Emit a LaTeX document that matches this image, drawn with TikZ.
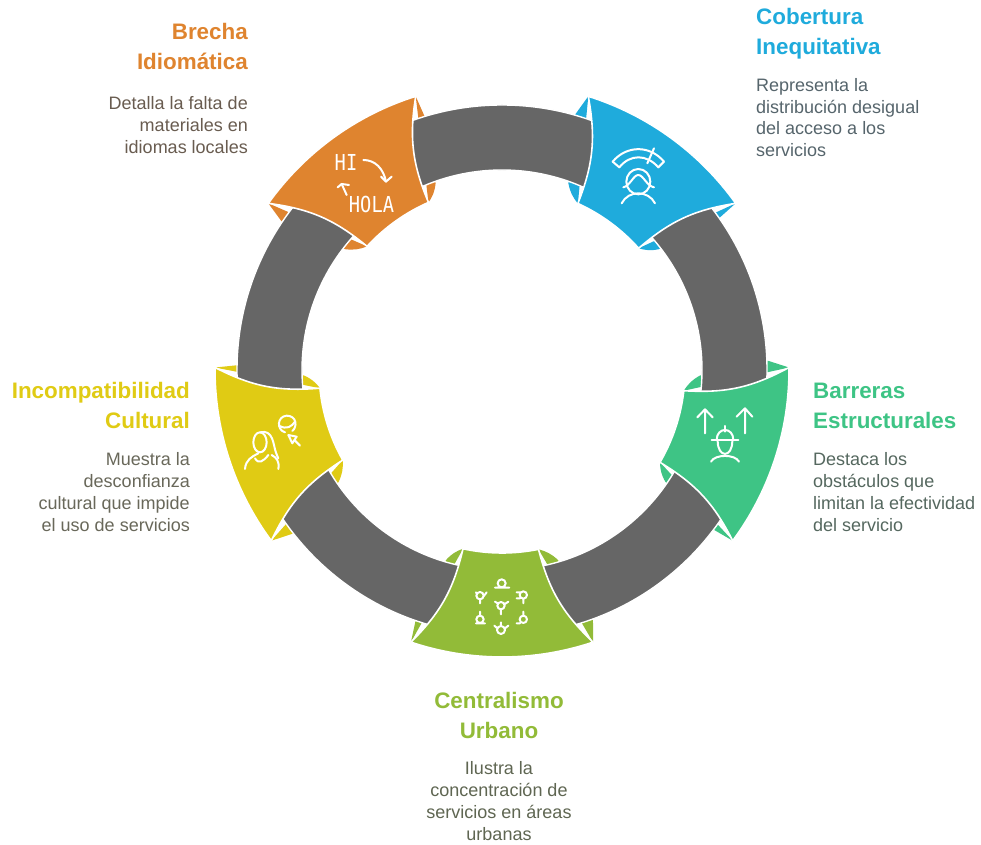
\documentclass[tikz,border=0pt]{standalone}
\usepackage{fontspec}
\setmainfont{Liberation Sans}
\newfontfamily\iconfont{DejaVu Sans Mono}
\definecolor{cblue}{HTML}{1FABDC}
\definecolor{cgreen}{HTML}{3EC485}
\definecolor{clime}{HTML}{92BB38}
\definecolor{cyell}{HTML}{E0CB14}
\definecolor{corg}{HTML}{DF842F}
\definecolor{cgray}{HTML}{666666}
\definecolor{dblue}{HTML}{56656C}
\definecolor{dgreen}{HTML}{55685F}
\definecolor{dlime}{HTML}{5F6652}
\definecolor{dyell}{HTML}{69685A}
\definecolor{dorg}{HTML}{695C50}
\tikzset{
  ringband/.style={fill=cgray,draw=white,line width=1.4pt},
  petal/.style={draw=white,line width=1.6pt,line join=round},
  ttl/.style={font=\fontsize{22.4}{30}\selectfont\bfseries,inner sep=0pt},
  dsc/.style={font=\fontsize{18}{21.8}\selectfont,inner sep=0pt},
  ico/.style={draw=white,line width=2pt,line cap=round,line join=round},
  icoscope/.style={x=0.3333pt,y=-0.3333pt},
  crv/.style={smooth,tension=1},
}
\newcommand{\tabs}[2]{%
  \begin{scope}[shift={(502,474)},rotate=#1-54]
    \fill[#2] (72.5:287) -- (74:266) -- (70.4:198) to[bend right=14] (65.5:183) -- cycle;
    \fill[#2] (35.5:287) -- (35:266) -- (37.6:198) to[bend left=14] (41.7:183) -- cycle;
  \end{scope}}
\newcommand{\petal}[2]{%
  \begin{scope}[shift={(502,474)},rotate=#1-54]
    \path[petal,fill=#2] (72.5:287) arc[start angle=72.5,end angle=35.5,radius=287]
      to[bend right=16] (41.7:183) arc[start angle=41.7,end angle=65.5,radius=183]
      to[bend right=16] cycle;
  \end{scope}}
\begin{document}
\begin{tikzpicture}[x=1pt,y=1pt]
\useasboundingbox (0,0) rectangle (981,844);
\fill[white] (0,0) rectangle (981,844);
\tabs{54}{cblue}\tabs{-18}{cgreen}\tabs{-90}{clime}\tabs{-162}{cyell}\tabs{126}{corg}
\path[ringband,even odd rule] (502,474) circle[radius=265] (502,474) circle[radius=200];
\petal{54}{cblue}\petal{-18}{cgreen}\petal{-90}{clime}\petal{-162}{cyell}\petal{126}{corg}
% texts
\begin{scope}[shift={(0,844)},y=-1pt]
\node[ttl,cblue,anchor=north west,align=left] (t1) at (756,8.5) {Cobertura\\Inequitativa};
\node[dsc,anchor=north west,align=left,text=dblue] (d1) at (756,78) {Representa la\\distribución desigual\\del acceso a los\\servicios};
\node[ttl,cgreen,anchor=north west,align=left] (t2) at (813,383) {Barreras\\Estructurales};
\node[dsc,anchor=north west,align=left,text=dgreen] (d2) at (813,452.5) {Destaca los\\obstáculos que\\limitan la efectividad\\del servicio};
\node[ttl,clime,anchor=north,align=center] (t3) at (499,692) {Centralismo\\Urbano};
\node[dsc,anchor=north,align=center,text=dlime] (d3) at (499,761.5) {Ilustra la\\concentración de\\servicios en áreas\\urbanas};
\node[ttl,cyell,anchor=north east,align=right] (t4) at (190,382.5) {Incompatibilidad\\Cultural};
\node[dsc,anchor=north east,align=right,text=dyell] (d4) at (190,452.5) {Muestra la\\desconfianza\\cultural que impide\\el uso de servicios};
\node[ttl,corg,anchor=north east,align=right] (t5) at (248,23.5) {Brecha\\Idiomática};
\node[dsc,anchor=north east,align=right,text=dorg] (d5) at (248,96.5) {Detalla la falta de\\materiales en\\idiomas locales};
% orange icon
\node[white,inner sep=0pt,font=\iconfont\fontsize{22}{22}\selectfont,xscale=.85,transform shape] (hi) at (346,162) {HI};
\node[white,inner sep=0pt,font=\iconfont\fontsize{22}{22}\selectfont,xscale=.85,transform shape] (hola) at (371.5,204) {HOLA};
\end{scope}
\begin{scope}[shift={(250,764)},icoscope]
\draw[ico] (340,240) .. controls (375,240) and (400,265) .. (408,305);
\draw[ico] (393,290)--(408,305)--(425,290);
\draw[ico] (290,345)--(275,312);
\draw[ico] (263,322)--(275,312)--(297,315);
\end{scope}
\begin{scope}[shift={(560,764)},icoscope]
\draw[ico] (158,245) .. controls (200,195) and (270,195) .. (312,245);
\draw[ico] (178,262) .. controls (210,222) and (260,222) .. (295,262);
\draw[ico] (158,245)--(178,262) (312,245)--(295,262) (282,205)--(262,250);
\draw[ico] (235,305) circle[x radius=36,y radius=38];
\draw[ico] (190,322) .. controls (210,318) and (220,285) .. (235,285) .. controls (250,285) and (260,318) .. (282,322);
\draw[ico] (185,370) .. controls (205,330) and (265,330) .. (285,370);
\end{scope}
\begin{scope}[shift={(650,494)},icoscope]
\draw[ico] (165,180)--(165,250) (142,202)--(165,178)--(188,202);
\draw[ico] (285,175)--(285,250) (260,200)--(285,175)--(307,200);
\draw[ico] (200,270) .. controls (200,230) and (250,230) .. (250,270);
\draw[ico] (185,270)--(265,270) (225,228)--(225,245);
\draw[ico] (203,272) .. controls (203,325) and (247,325) .. (247,272);
\draw[ico] (183,335) .. controls (195,312) and (255,312) .. (267,335);
\end{scope}
\begin{scope}[shift={(400,309)},icoscope]
\draw[ico] (305,145) circle[radius=12] (285,158)--(328,158);
\draw[ico] (240,182) circle[radius=11] (240,193)--(240,205) (228,172)--(232,178) (260,172)--(250,185);
\draw[ico] (370,180) circle[radius=11] (370,191)--(370,205) (350,172)--(360,172) (350,190)--(360,190);
\draw[ico] (303,212) circle[radius=11] (303,223)--(303,238) (285,200)--(293,205) (325,200)--(313,208);
\draw[ico] (240,253) circle[radius=11] (240,230)--(240,242) (228,265)--(255,265);
\draw[ico] (370,253) circle[radius=11] (370,230)--(370,242) (350,265)--(360,265);
\draw[ico] (303,285) circle[radius=12] (303,262)--(303,273) (283,272)--(292,280) (325,272)--(315,280);
\end{scope}
\begin{scope}[shift={(205,489)},icoscope]
\draw[ico] (165,262) circle[x radius=20,y radius=30];
\draw[ico] (165,232) .. controls (205,222) and (205,270) .. (212,290) .. controls (215,300) and (218,305) .. (220,310);
\draw[ico] (120,342) .. controls (122,315) and (140,305) .. (160,295);
\draw[ico] (150,310) .. controls (160,328) and (175,320) .. (190,300);
\draw[ico] (220,342) .. controls (224,320) and (215,308) .. (200,300);
\draw[ico] (240,232) .. controls (215,225) and (215,185) .. (245,182) .. controls (275,182) and (278,215) .. (262,228);
\draw[ico] (222,212) .. controls (245,225) and (260,215) .. (270,200);
\draw[ico] (250,240)--(275,245)--(262,265)--cycle;
\draw[ico] (268,255)--(285,272);
\end{scope}
\end{tikzpicture}
\end{document}
